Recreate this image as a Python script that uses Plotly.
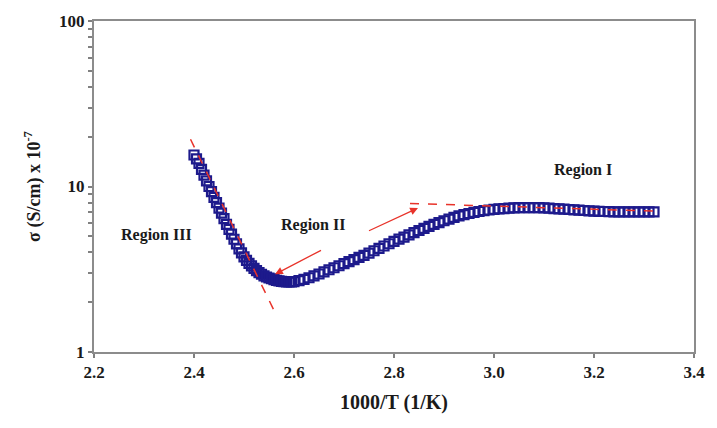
import plotly.graph_objects as go
import math

# ---- data ----
x_inv_T = [2.400, 2.405, 2.410, 2.415, 2.420, 2.425, 2.430, 2.435, 2.440, 2.445,
           2.450, 2.455, 2.460, 2.465, 2.470, 2.475, 2.480, 2.485, 2.490, 2.495,
           2.500, 2.505, 2.510, 2.515, 2.520, 2.525, 2.530, 2.535, 2.540, 2.545,
           2.550, 2.555, 2.560, 2.565, 2.570, 2.575, 2.580, 2.585, 2.590, 2.595,
           2.60, 2.61, 2.62, 2.63, 2.64, 2.65, 2.66, 2.67, 2.68, 2.69,
           2.70, 2.71, 2.72, 2.73, 2.74, 2.75, 2.76, 2.77, 2.78, 2.79,
           2.80, 2.81, 2.82, 2.83, 2.84, 2.85, 2.86, 2.87, 2.88, 2.89,
           2.90, 2.91, 2.92, 2.93, 2.94, 2.95, 2.96, 2.97, 2.98, 2.99,
           3.00, 3.01, 3.02, 3.03, 3.04, 3.05, 3.06, 3.07, 3.08, 3.09,
           3.10, 3.11, 3.12, 3.13, 3.14, 3.15, 3.16, 3.17, 3.18, 3.19,
           3.20, 3.21, 3.22, 3.23, 3.24, 3.25, 3.26, 3.27, 3.28, 3.29,
           3.30, 3.31, 3.32]
sigma = [15.5, 14.7, 13.8, 12.7, 11.7, 10.8, 10.0, 9.3, 8.6, 8.0,
         7.4, 6.9, 6.4, 5.9, 5.5, 5.15, 4.8, 4.5, 4.2, 3.97,
         3.76, 3.58, 3.43, 3.31, 3.20, 3.10, 3.02, 2.95, 2.88, 2.84,
         2.80, 2.77, 2.74, 2.71, 2.69, 2.67, 2.66, 2.655, 2.65, 2.655,
         2.66, 2.70, 2.75, 2.81, 2.88, 2.96, 3.05, 3.14, 3.23, 3.32,
         3.42, 3.52, 3.62, 3.73, 3.84, 3.96, 4.09, 4.23, 4.37, 4.51,
         4.66, 4.81, 4.95, 5.10, 5.26, 5.42, 5.58, 5.74, 5.90, 6.05,
         6.21, 6.35, 6.50, 6.64, 6.76, 6.87, 6.97, 7.06, 7.14, 7.21,
         7.28, 7.33, 7.36, 7.40, 7.43, 7.45, 7.46, 7.46, 7.46, 7.45,
         7.43, 7.40, 7.36, 7.33, 7.29, 7.26, 7.23, 7.19, 7.16, 7.13,
         7.10, 7.08, 7.06, 7.05, 7.03, 7.03, 7.02, 7.02, 7.02, 7.02,
         7.02, 7.02, 7.02]

# fitted dashed lines (Region III and Region I)
fit3_x = [2.393, 2.565]
fit3_y = [19.3, 1.66]
fit1_x = [2.832, 3.32]
fit1_y = [7.9, 7.1]

# arrows: tail -> head
arrow_tail_x = [2.657, 2.747]
arrow_tail_y = [4.16, 5.35]
arrow_head_x = [2.562, 2.848]
arrow_head_y = [2.95, 7.41]

# region labels
label_text = ["Region I", "Region II", "Region III"]
label_x = [3.178, 2.638, 2.325]
label_y = [12.55, 5.85, 5.11]

x_ticks = [2.2, 2.4, 2.6, 2.8, 3.0, 3.2, 3.4]
y_major = [1, 10, 100]

FONT = "Liberation Serif"
NAVY = "#1d1a8c"
RED = "#e8332a"
TXT = "#1a1a1a"

fig = go.Figure()

fig.add_trace(go.Scatter(
    x=x_inv_T, y=sigma, mode="markers",
    marker=dict(symbol="square-open", size=9, color=NAVY,
                line=dict(width=2.2, color=NAVY)),
    showlegend=False, hoverinfo="skip"))

for fx, fy in [(fit3_x, fit3_y), (fit1_x, fit1_y)]:
    fig.add_trace(go.Scatter(
        x=fx, y=fy, mode="lines",
        line=dict(color=RED, width=1.5, dash="dash"),
        showlegend=False, hoverinfo="skip"))

for tx, ty, hx, hy in zip(arrow_tail_x, arrow_tail_y, arrow_head_x, arrow_head_y):
    fig.add_annotation(
        x=hx, y=math.log10(hy), ax=tx, ay=math.log10(ty),
        xref="x", yref="y", axref="x", ayref="y",
        text="", showarrow=True, arrowhead=2, arrowsize=1.2,
        arrowwidth=1.3, arrowcolor=RED)

for t, lx, ly in zip(label_text, label_x, label_y):
    fig.add_annotation(
        x=lx, y=math.log10(ly), xref="x", yref="y", text="<b>%s</b>" % t,
        showarrow=False, font=dict(family=FONT, size=16, color=TXT))

# y minor ticks as unlabeled tick values
y_tickvals = []
y_ticktext = []
for d in [1, 10]:
    for m in range(1, 10):
        v = d * m
        y_tickvals.append(v)
        y_ticktext.append("<b>%d</b>" % v if v in y_major else "")
y_tickvals.append(100)
y_ticktext.append("<b>100</b>")

fig.update_xaxes(
    range=[2.2, 3.4], tickvals=x_ticks,
    ticktext=["<b>%.1f</b>" % v for v in x_ticks],
    ticks="outside", ticklen=4, tickwidth=1.5, tickcolor="#808080",
    showline=True, linecolor="#8c8c8c", linewidth=2, mirror=True,
    showgrid=False, zeroline=False,
    tickfont=dict(family=FONT, size=17, color=TXT),
    title=dict(text="<b>1000/T (1/K)</b>",
               font=dict(family=FONT, size=20, color=TXT), standoff=14))

fig.update_yaxes(
    type="log", range=[0, 2], tickvals=y_tickvals, ticktext=y_ticktext,
    ticks="outside", ticklen=4, tickwidth=1.5, tickcolor="#808080",
    showline=True, linecolor="#8c8c8c", linewidth=2, mirror=True,
    showgrid=False, zeroline=False,
    tickfont=dict(family=FONT, size=17, color=TXT),
    title=dict(text="<b>σ (S/cm) x 10<sup>-7</sup></b>",
               font=dict(family=FONT, size=18, color=TXT), standoff=14))

fig.update_layout(
    width=717, height=428,
    margin=dict(l=94, r=17, t=17, b=76),
    paper_bgcolor="white", plot_bgcolor="white")

fig.write_html("out.html")
